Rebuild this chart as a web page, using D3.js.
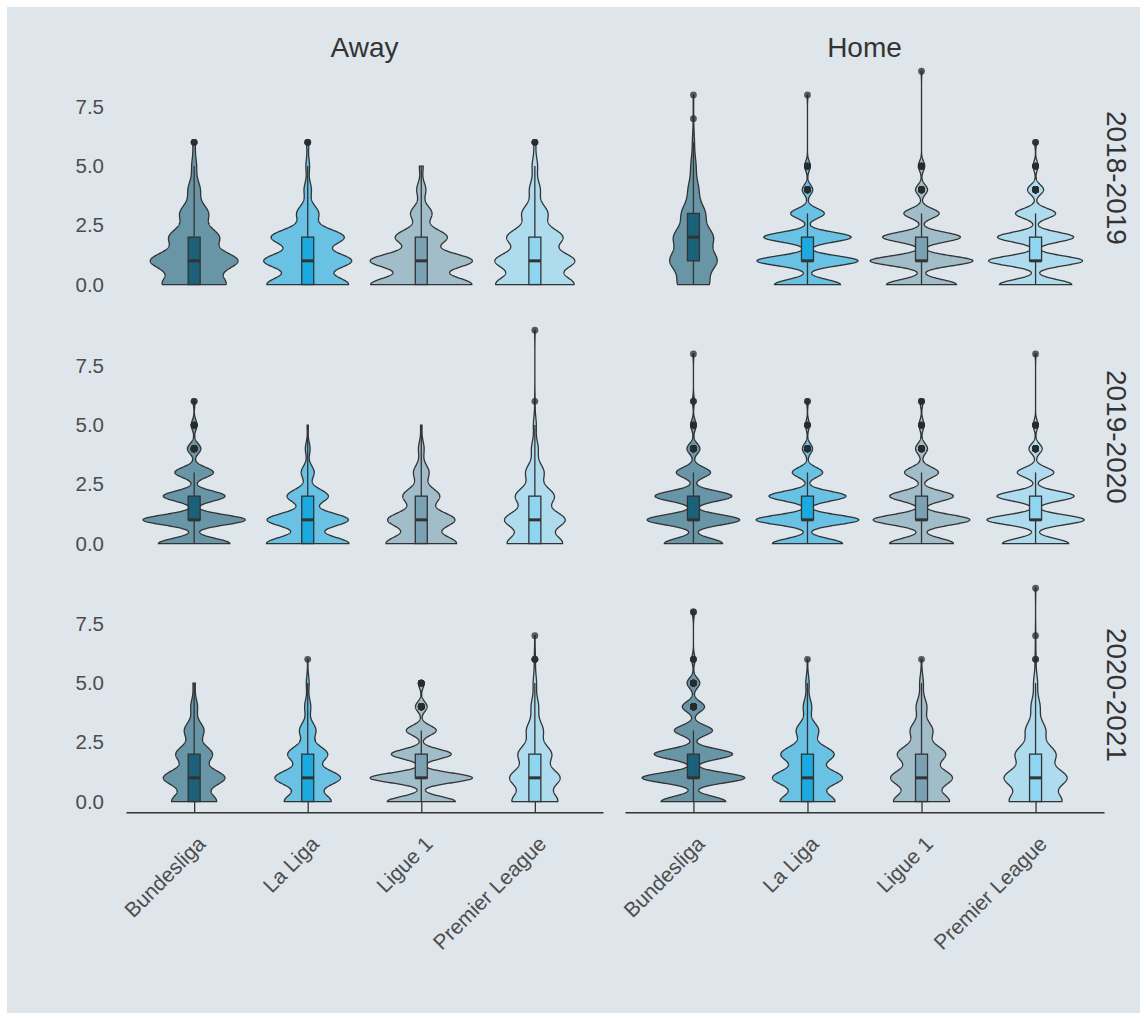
<!DOCTYPE html>
<html>
<head>
<meta charset="utf-8">
<script src="https://cdn.jsdelivr.net/npm/d3@7"></script>
<style>
  body { margin: 0; background: #fff; }
  text { font-family: "Liberation Sans", Arial, sans-serif; }
</style>
</head>
<body>
<div id="chart"></div>
<script>
// Categories
const leagues = ["Bundesliga", "La Liga", "Ligue 1", "Premier League"];
const venues = ["Away", "Home"];
const seasons = ["2018-2019", "2019-2020", "2020-2021"];
const goals = [0, 1, 2, 3, 4, 5, 6, 7, 8, 9];
const yTicks = [0, 2.5, 5, 7.5];

// Number of matches with 0..9 goals, one row per league
const away_2018_2019 = [
  [78, 108, 61, 35, 15, 6, 3, 0, 0, 0],
  [112, 120, 100, 30, 10, 5, 3, 0, 0, 0],
  [133, 134, 68, 28, 12, 5, 0, 0, 0, 0],
  [116, 117, 82, 38, 16, 8, 3, 0, 0, 0]
];
const home_2018_2019 = [
  [60, 90, 75, 45, 20, 10, 4, 1, 1, 0],
  [82, 126, 109, 42, 13, 7, 0, 0, 1, 0],
  [87, 128, 97, 44, 15, 8, 0, 0, 0, 1],
  [90, 117, 95, 50, 20, 6, 2, 0, 0, 0]
];
const away_2019_2020 = [
  [74, 106, 64, 40, 14, 6, 2, 0, 0, 0],
  [140, 138, 70, 22, 8, 2, 0, 0, 0, 0],
  [100, 95, 52, 22, 8, 2, 0, 0, 0, 0],
  [115, 125, 80, 38, 14, 6, 1, 0, 0, 1]
];
const home_2019_2020 = [
  [63, 100, 83, 37, 14, 6, 2, 0, 1, 0],
  [90, 132, 99, 39, 13, 5, 2, 0, 0, 0],
  [64, 97, 64, 34, 12, 5, 3, 0, 0, 0],
  [85, 125, 99, 47, 17, 6, 0, 0, 1, 0]
];
const away_2020_2021 = [
  [80, 110, 65, 35, 12, 4, 0, 0, 0, 0],
  [100, 140, 85, 35, 13, 6, 1, 0, 0, 0],
  [93, 140, 82, 41, 16, 8, 0, 0, 0, 0],
  [110, 120, 80, 40, 18, 8, 3, 1, 0, 0]
];
const home_2020_2021 = [
  [61, 97, 74, 36, 21, 12, 3, 0, 2, 0],
  [98, 125, 95, 40, 15, 6, 1, 0, 0, 0],
  [105, 115, 90, 42, 20, 7, 1, 0, 0, 0],
  [105, 125, 80, 40, 18, 8, 2, 1, 0, 1]
];

const panelData = {
  "Away|2018-2019": away_2018_2019, "Home|2018-2019": home_2018_2019,
  "Away|2019-2020": away_2019_2020, "Home|2019-2020": home_2019_2020,
  "Away|2020-2021": away_2020_2021, "Home|2020-2021": home_2020_2021
};

const boxColors = ["#1b6179", "#1aaae0", "#7aa1b4", "#8dd5f0"];
const bg = "#dee5eb";
const ink = "#333333";

// Layout
const W = 1147, H = 1020;
const colRange = { Away: [126, 603], Home: [625, 1104] };
const rowBottom = [295.2, 554.2, 812.2];
const rowHeight = 234.6;

const svg = d3.select("#chart")
  .append("svg")
  .attr("width", W)
  .attr("height", H);

svg.append("rect")
  .attr("x", 7).attr("y", 7)
  .attr("width", W - 14).attr("height", H - 14)
  .attr("fill", bg);

// Stats helpers
function expand(counts) {
  const out = [];
  counts.forEach((c, i) => { for (let k = 0; k < c; k++) out.push(goals[i]); });
  return out;
}

function boxStats(values) {
  const q1 = d3.quantileSorted(values, 0.25);
  const med = d3.quantileSorted(values, 0.5);
  const q3 = d3.quantileSorted(values, 0.75);
  const iqr = q3 - q1;
  const lo = q1 - 1.5 * iqr, hi = q3 + 1.5 * iqr;
  const inside = values.filter(v => v >= lo && v <= hi);
  return {
    q1, med, q3, iqr,
    wLow: d3.min(inside), wHigh: d3.max(inside),
    outliers: values.filter(v => v < lo || v > hi)
  };
}

// gaussian kernel density, bw.nrd0, trimmed to data range
function density(values, iqr) {
  const n = values.length;
  const sd = d3.deviation(values);
  const bw = 0.9 * Math.min(sd, iqr / 1.34) * Math.pow(n, -0.2);
  const lo = d3.min(values), hi = d3.max(values);
  const norm = 1 / (n * bw * Math.sqrt(2 * Math.PI));
  return d3.range(512).map(i => {
    const v = lo + (hi - lo) * i / 511;
    let s = 0;
    for (const x of values) {
      const z = (v - x) / bw;
      s += Math.exp(-0.5 * z * z);
    }
    return { v, d: s * norm };
  });
}

seasons.forEach((season, r) => {
  const y = d3.scaleLinear()
    .domain([-0.45, 9.45])
    .range([rowBottom[r], rowBottom[r] - rowHeight]);

  venues.forEach((venue, c) => {
    const x = d3.scalePoint()
      .domain(leagues)
      .range(colRange[venue])
      .padding(0.6);
    const half = 0.45 * x.step();
    const boxHalf = 6;

    const groups = panelData[venue + "|" + season].map((counts, i) => {
      const values = expand(counts);
      const stats = boxStats(values);
      return { league: leagues[i], i, values, stats, dens: density(values, stats.iqr) };
    });
    // scale = "area": widths relative to the widest density in the panel
    const maxD = d3.max(groups, g => d3.max(g.dens, p => p.d));

    const g = svg.append("g");

    groups.forEach(grp => {
      const cx = x(grp.league);
      const area = d3.area()
        .x0(p => cx - p.d / maxD * half)
        .x1(p => cx + p.d / maxD * half)
        .y(p => y(p.v));

      g.append("path")
        .datum(grp.dens)
        .attr("d", area)
        .attr("fill", boxColors[grp.i])
        .attr("fill-opacity", 0.6)
        .attr("stroke", ink)
        .attr("stroke-width", 1.3);

      const s = grp.stats;
      // whiskers
      g.append("line")
        .attr("x1", cx).attr("x2", cx)
        .attr("y1", y(s.q3)).attr("y2", y(s.wHigh))
        .attr("stroke", ink).attr("stroke-width", 1.3);
      g.append("line")
        .attr("x1", cx).attr("x2", cx)
        .attr("y1", y(s.q1)).attr("y2", y(s.wLow))
        .attr("stroke", ink).attr("stroke-width", 1.3);
      // box
      g.append("rect")
        .attr("x", cx - boxHalf)
        .attr("y", y(s.q3))
        .attr("width", boxHalf * 2)
        .attr("height", y(s.q1) - y(s.q3))
        .attr("fill", boxColors[grp.i])
        .attr("stroke", ink)
        .attr("stroke-width", 1.3);
      // median
      g.append("line")
        .attr("x1", cx - boxHalf).attr("x2", cx + boxHalf)
        .attr("y1", y(s.med)).attr("y2", y(s.med))
        .attr("stroke", ink).attr("stroke-width", 3);
      // outliers
      g.selectAll(null)
        .data(s.outliers)
        .enter()
        .append("circle")
        .attr("cx", cx)
        .attr("cy", d => y(d))
        .attr("r", 3.4)
        .attr("fill", "#2b2b2b")
        .attr("fill-opacity", 0.75);
    });

    // y axis labels on left column only
    if (c === 0) {
      const yAxis = svg.append("g")
        .attr("transform", `translate(${colRange.Away[0]},0)`)
        .call(d3.axisLeft(y).tickValues(yTicks).tickFormat(d3.format(".1f")).tickSize(0).tickPadding(22));
      yAxis.select(".domain").remove();
      yAxis.selectAll("text")
        .attr("font-family", "Liberation Sans, Arial, sans-serif")
        .attr("font-size", 20.5)
        .attr("fill", "#4d4d4d");
    }

    // x axis on bottom row
    if (r === seasons.length - 1) {
      const xAxis = svg.append("g")
        .attr("transform", `translate(0,${rowBottom[r]})`)
        .call(d3.axisBottom(x).tickSizeInner(-11).tickSizeOuter(0));
      xAxis.select(".domain").attr("stroke", ink).attr("stroke-width", 1.4);
      xAxis.selectAll(".tick line").attr("stroke", ink).attr("stroke-width", 1.3);
      xAxis.selectAll(".tick text")
        .attr("y", null)
        .attr("dy", "0.75em")
        .attr("transform", "translate(1,22) rotate(-45)")
        .attr("text-anchor", "end")
        .attr("font-family", "Liberation Sans, Arial, sans-serif")
        .attr("font-size", 21)
        .attr("fill", "#4d4d4d");
    }

    // top strip
    if (r === 0) {
      svg.append("text")
        .attr("x", d3.mean(colRange[venue]))
        .attr("y", 57)
        .attr("text-anchor", "middle")
        .attr("font-size", 28)
        .attr("fill", ink)
        .text(venue);
    }
  });

  // right strip
  svg.append("text")
    .attr("transform", `translate(1117,${rowBottom[r] - rowHeight / 2}) rotate(90)`)
    .attr("text-anchor", "middle")
    .attr("dy", "0.35em")
    .attr("font-size", 28)
    .attr("fill", ink)
    .text(season);
});
</script>
</body>
</html>
